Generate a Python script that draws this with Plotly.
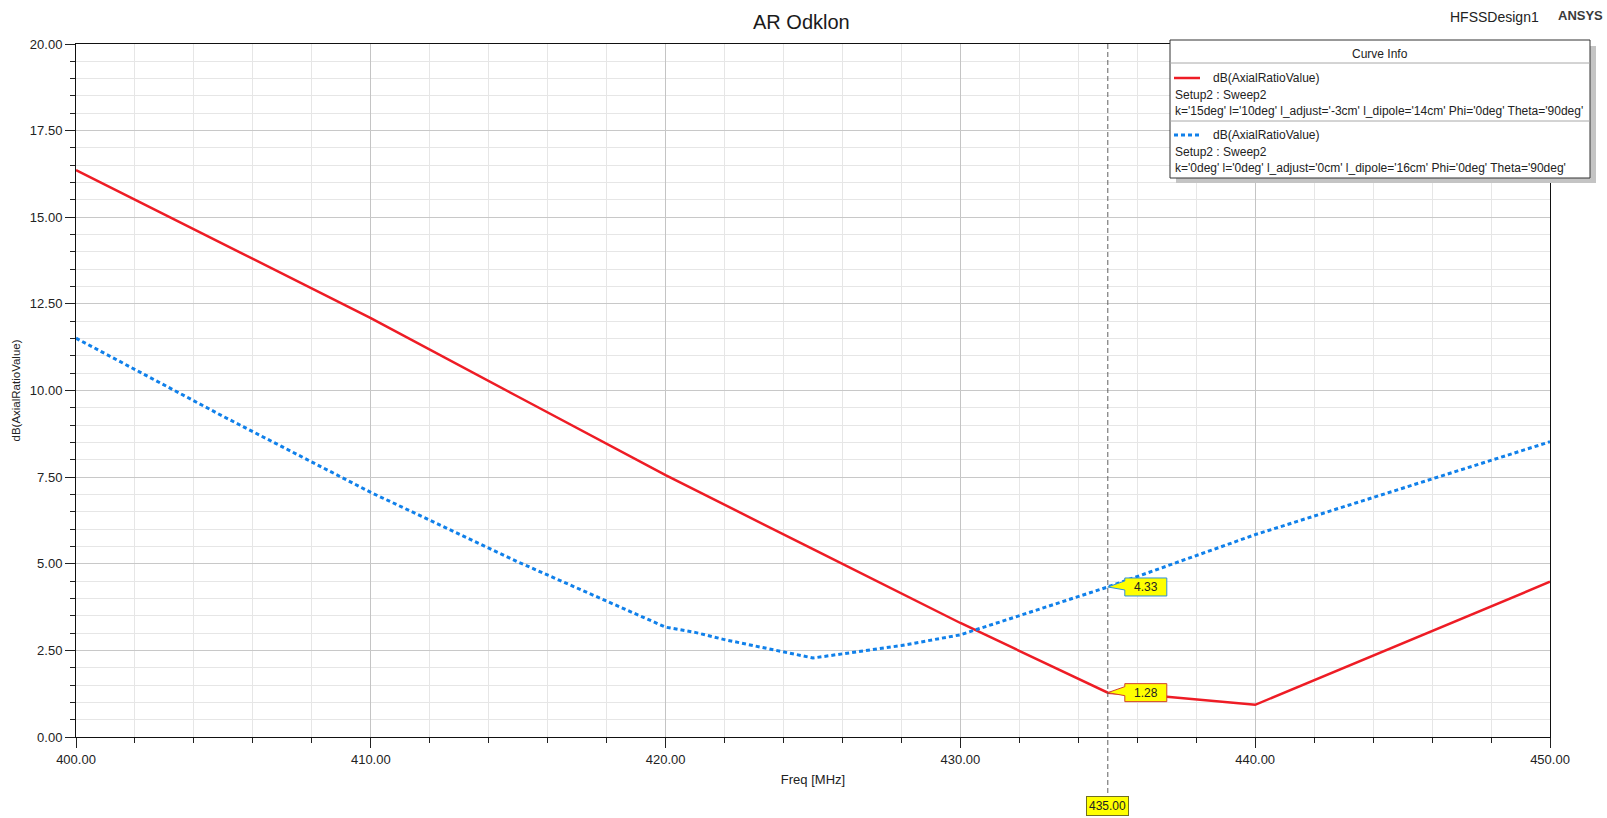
import plotly.graph_objects as go

# ---------------- data ----------------
freq_red = [400, 405, 410, 415, 420, 425, 430, 435, 437, 440, 445, 450]
ar_red = [16.36, 14.22, 12.09, 9.82, 7.56, 5.42, 3.29, 1.28, 1.16, 0.93, 2.70, 4.48]

freq_blue = [400, 405, 410, 415, 420, 421, 422, 423, 424, 425,
             427, 428, 430, 435, 440, 445, 450]
ar_blue = [11.51, 9.25, 7.06, 5.05, 3.17, 3.02, 2.81, 2.63,
           2.44, 2.28, 2.52, 2.64, 2.95, 4.33, 5.84, 7.18, 8.52]

marker_freq = 435.00
marker_vals = [4.33, 1.28]

title_text = "AR Odklon"
x_title = "Freq [MHz]"
y_title = "dB(AxialRatioValue)"
legend_header = "Curve Info"
series_names = ["dB(AxialRatioValue)", "dB(AxialRatioValue)"]
series_setups = ["Setup2 : Sweep2", "Setup2 : Sweep2"]
series_params = [
    "k='15deg' l='10deg' l_adjust='-3cm' l_dipole='14cm' Phi='0deg' Theta='90deg'",
    "k='0deg' l='0deg' l_adjust='0cm' l_dipole='16cm' Phi='0deg' Theta='90deg'",
]
series_colors = ["#ee1c25", "#1080ea"]
series_dash = ["solid", "4px,3px"]
marker_borders = ["#2f8fd8", "#d0402c"]

# ---------------- layout helpers ----------------
W, H = 1607, 818
L, R, T, B = 76, 1550, 44, 737
FONT = "Liberation Sans, Arial, sans-serif"


def px(x):
    return (x - L) / (R - L)


def py(y):
    return (B - y) / (B - T)


def label(x, y, text, size, xanchor="center", color="#222"):
    return dict(x=px(x), y=py(y), xref="paper", yref="paper", text=text,
                xanchor=xanchor, yanchor="middle", showarrow=False,
                font=dict(family=FONT, size=size, color=color))


fig = go.Figure()
fig.add_trace(go.Scatter(x=freq_red, y=ar_red, mode="lines", name=series_names[0],
                         line=dict(color=series_colors[0], width=2.5, dash=series_dash[0]),
                         showlegend=False, hoverinfo="x+y"))
fig.add_trace(go.Scatter(x=freq_blue, y=ar_blue, mode="lines", name=series_names[1],
                         line=dict(color=series_colors[1], width=3, dash=series_dash[1]),
                         showlegend=False, hoverinfo="x+y"))

shapes = []
annotations = []

# marker dashed line
shapes.append(dict(type="line", xref="x", yref="paper", x0=marker_freq, x1=marker_freq,
                   y0=1, y1=py(795), line=dict(color="#606060", width=1, dash="5px,3px"),
                   layer="above"))

# marker callouts
for val, bc in zip(marker_vals, marker_borders):
    shapes.append(dict(type="path", xref="x", yref="y", xsizemode="pixel", ysizemode="pixel",
                       xanchor=marker_freq, yanchor=val,
                       path="M0,0 L17,6 L17,9 L59,9 L59,-9 L17,-9 L17,-3 Z",
                       fillcolor="#ffff00", line=dict(color=bc, width=1), layer="above"))
    annotations.append(dict(x=marker_freq, y=val, xref="x", yref="y", xshift=38,
                            xanchor="center", yanchor="middle",
                            text=f"{val:.2f}", showarrow=False,
                            font=dict(family=FONT, size=12, color="#222")))

# marker x label
annotations.append(dict(x=marker_freq, y=py(806), xref="x", yref="paper",
                        xanchor="center", yanchor="middle",
                        text=f"{marker_freq:.2f}", showarrow=False,
                        bgcolor="#ffff00", bordercolor="#707020", borderwidth=1, borderpad=2,
                        font=dict(family=FONT, size=12, color="#222")))

# title and corner labels
annotations.append(label(801, 22, title_text, 20, color="#1a1a1a"))
annotations.append(label(1494, 17, "HFSSDesign1", 14))
annotations.append(label(1580, 16, "<b>ANSYS</b>", 13, color="#3a3a3a"))

# legend box ("Curve Info")
LX0, LX1, LY0, LY1 = 1170, 1590, 40, 178
shapes.append(dict(type="rect", xref="paper", yref="paper", x0=px(LX0 + 6), x1=px(LX1 + 6),
                   y0=py(LY0 + 6), y1=py(LY1 + 5), fillcolor="#c4c4c4",
                   line=dict(width=0), layer="above"))
shapes.append(dict(type="rect", xref="paper", yref="paper", x0=px(LX0), x1=px(LX1),
                   y0=py(LY0), y1=py(LY1), fillcolor="white",
                   line=dict(color="#333", width=1), layer="above"))
for sy in (63, 121):
    shapes.append(dict(type="line", xref="paper", yref="paper", x0=px(LX0), x1=px(LX1),
                       y0=py(sy), y1=py(sy), line=dict(color="#a8a8a8", width=1), layer="above"))
annotations.append(label(1380, 54, legend_header, 12))

row_y = [(78, 95, 111), (135, 152, 168)]
for i in range(2):
    yn, ys, yp = row_y[i]
    shapes.append(dict(type="line", xref="paper", yref="paper", x0=px(1174), x1=px(1200),
                       y0=py(yn), y1=py(yn),
                       line=dict(color=series_colors[i], width=2.5 if i == 0 else 3,
                                 dash=series_dash[i]), layer="above"))
    annotations.append(label(1211, yn, series_names[i], 12, xanchor="left"))
    annotations.append(label(1173, ys, series_setups[i], 12, xanchor="left"))
    annotations.append(label(1173, yp, series_params[i], 12, xanchor="left"))

fig.update_layout(
    width=W, height=H, autosize=False,
    margin=dict(l=L, r=W - R, t=T, b=H - B, pad=0),
    paper_bgcolor="white", plot_bgcolor="white",
    font=dict(family=FONT, size=13, color="#222"),
    shapes=shapes, annotations=annotations,
    showlegend=False,
)
fig.update_xaxes(
    range=[400, 450], dtick=10, tick0=400, tickformat=".2f",
    showgrid=True, gridcolor="#c4c4c4", gridwidth=1,
    ticks="outside", ticklen=10, tickcolor="#222", tickwidth=1,
    minor=dict(dtick=2, showgrid=True, gridcolor="#e6e6e6", ticks="outside", ticklen=5,
               tickcolor="#222"),
    showline=True, linecolor="#111", linewidth=1, mirror=True, zeroline=False,
    tickfont=dict(family=FONT, size=13, color="#222"),
    title=dict(text=x_title, standoff=9, font=dict(family=FONT, size=13, color="#222")),
)
fig.update_yaxes(
    range=[0, 20], dtick=2.5, tick0=0, tickformat=".2f",
    showgrid=True, gridcolor="#c8c8c8", gridwidth=1,
    ticks="outside", ticklen=10, tickcolor="#222", tickwidth=1,
    minor=dict(dtick=0.5, showgrid=True, gridcolor="#e6e6e6", ticks="outside", ticklen=5,
               tickcolor="#222"),
    showline=True, linecolor="#111", linewidth=1, mirror=True, zeroline=False,
    tickfont=dict(family=FONT, size=13, color="#222"),
    title=dict(text=y_title, standoff=6, font=dict(family=FONT, size=11.5, color="#222")),
)

fig.write_html("out.html")
